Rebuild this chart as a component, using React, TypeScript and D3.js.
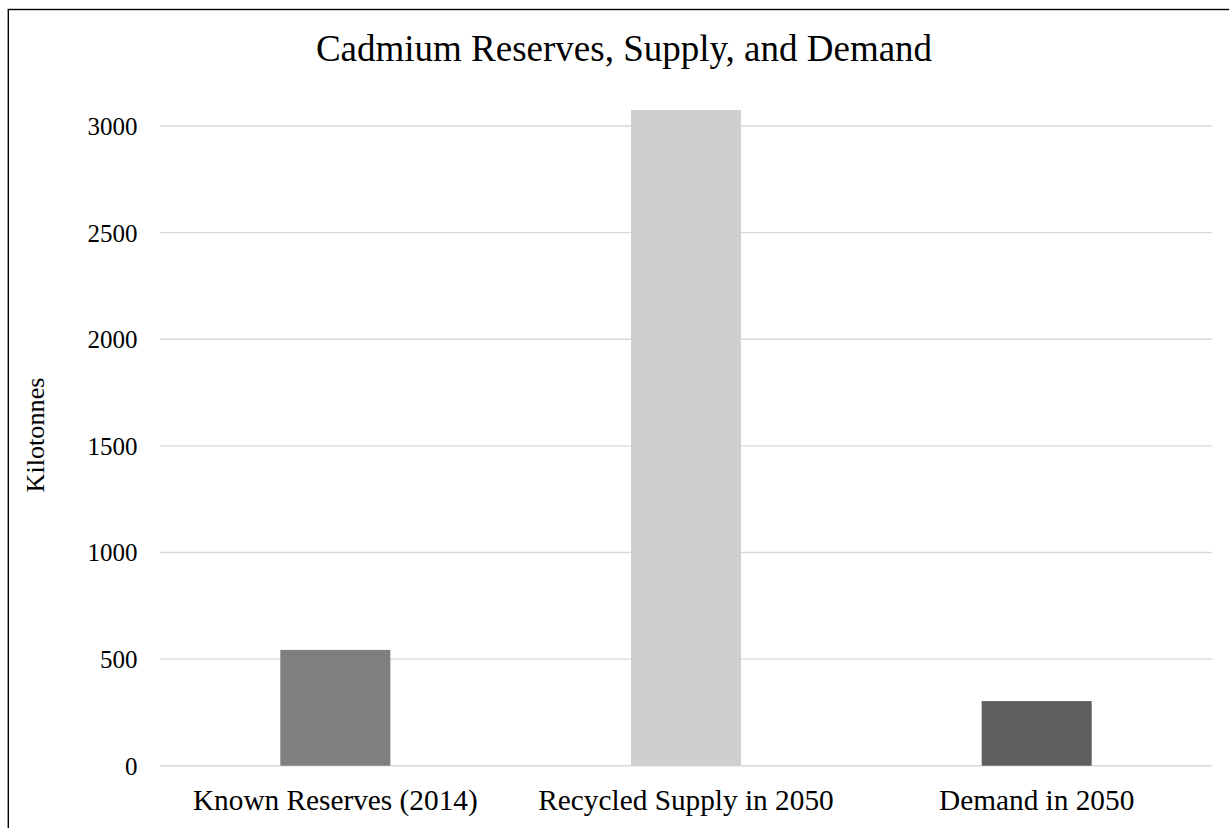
import React from "react";
import * as d3 from "d3";

// Chart data
const categories: string[] = ["Known Reserves (2014)", "Recycled Supply in 2050", "Demand in 2050"];
const values: number[] = [543, 3075, 303];
const barColors: string[] = ["#7f7f7f", "#d0cece", "#5f5f5f"];
const yTicks: number[] = [0, 500, 1000, 1500, 2000, 2500, 3000];
const title = "Cadmium Reserves, Supply, and Demand";
const yAxisTitle = "Kilotonnes";

const W = 1229;
const H = 828;
const FONT = "'Liberation Serif', 'Times New Roman', serif";

export default function App() {
  const plotLeft = 160;
  const plotRight = 1212;
  const y = d3.scaleLinear().domain([0, 3000]).range([765.7, 126]);
  const x = d3
    .scaleBand<string>()
    .domain(categories)
    .range([plotLeft, plotRight])
    .paddingInner(0.6863)
    .paddingOuter(0.3431);

  return (
    <svg
      width={W}
      height={H}
      style={{ position: "absolute", left: 0, top: 0, background: "#fff" }}
      fontFamily={FONT}
    >
      {/* chart frame, extends past the page edge */}
      <rect x={8.3} y={9.5} width={1400} height={1000} fill="none" stroke="#000" strokeWidth={1.4} />

      <text x={624} y={60.5} textAnchor="middle" fontSize={37} fill="#000">
        {title}
      </text>

      {/* gridlines */}
      {yTicks.map((t) => (
        <line
          key={"g" + t}
          x1={plotLeft}
          x2={plotRight}
          y1={y(t)}
          y2={y(t)}
          stroke="#d9d9d9"
          strokeWidth={1.4}
        />
      ))}

      {/* y tick labels */}
      {yTicks.map((t) => (
        <text key={"t" + t} x={137.5} y={y(t) + 9} textAnchor="end" fontSize={25} fill="#000">
          {t}
        </text>
      ))}

      {/* bars */}
      {categories.map((c, i) => (
        <rect
          key={c}
          x={x(c)}
          y={y(values[i])}
          width={x.bandwidth()}
          height={y(0) - y(values[i])}
          fill={barColors[i]}
        />
      ))}

      {/* category labels */}
      {categories.map((c) => (
        <text
          key={"c" + c}
          x={(x(c) as number) + x.bandwidth() / 2}
          y={810}
          textAnchor="middle"
          fontSize={29.3}
          fill="#000"
        >
          {c}
        </text>
      ))}

      <text
        transform={`translate(44,435) rotate(-90)`}
        textAnchor="middle"
        fontSize={26.2}
        fill="#000"
      >
        {yAxisTitle}
      </text>
    </svg>
  );
}
